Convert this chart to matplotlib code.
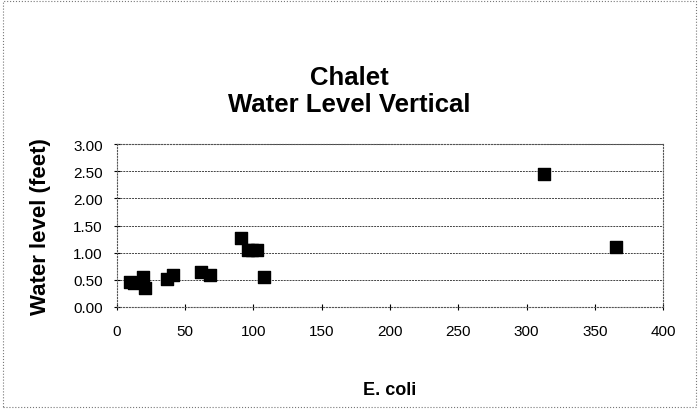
import matplotlib

matplotlib.use("Agg")
import matplotlib.pyplot as plt
from matplotlib.patches import Rectangle

plt.rcParams["font.family"] = ["Liberation Sans", "DejaVu Sans"]

# E. coli vs water level (feet)
ecoli = [10, 13, 19, 21, 37, 41, 62, 68, 91, 96, 99, 103, 108, 313, 365]
water_level = [0.45, 0.44, 0.55, 0.34, 0.52, 0.59, 0.65, 0.59, 1.27, 1.04, 1.04, 1.04, 0.55, 2.45, 1.10]

x_ticks = [0, 50, 100, 150, 200, 250, 300, 350, 400]
y_ticks = [0.00, 0.50, 1.00, 1.50, 2.00, 2.50, 3.00]

fig = plt.figure(figsize=(6.99, 4.10), dpi=100)
ax = fig.add_axes([0.167, 0.249, 0.782, 0.397])

ax.scatter(ecoli, water_level, marker="s", s=70, color="black", zorder=3)

ax.set_xlim(0, 400)
ax.set_ylim(0, 3)
ax.set_xticks(x_ticks)
ax.set_yticks(y_ticks)
ax.set_yticklabels([f"{v:.2f}" for v in y_ticks])
ax.tick_params(labelsize=11, direction="inout", length=4)
ax.tick_params(axis="x", pad=10)
ax.tick_params(axis="y", pad=8)
ax.grid(True, axis="y", linestyle=(0, (2, 1)), color="#444444", linewidth=0.7)
for sp in ax.spines.values():
    sp.set_linestyle(":")
    sp.set_color("#555555")

ax.set_xlabel("E. coli", fontsize=13, fontweight="bold", labelpad=31)
ax.set_ylabel("Water level (feet)", fontsize=16, fontweight="bold", labelpad=16)
fig.text(0.5, 0.777, "Chalet\nWater Level Vertical", ha="center", va="center",
         fontsize=18.5, fontweight="bold", linespacing=1.15)

fig.patches.append(Rectangle((0.004, 0.005), 0.992, 0.99, transform=fig.transFigure,
                             fill=False, linestyle=":", edgecolor="#777777", linewidth=0.8))

fig.savefig("out.png", dpi=100)
